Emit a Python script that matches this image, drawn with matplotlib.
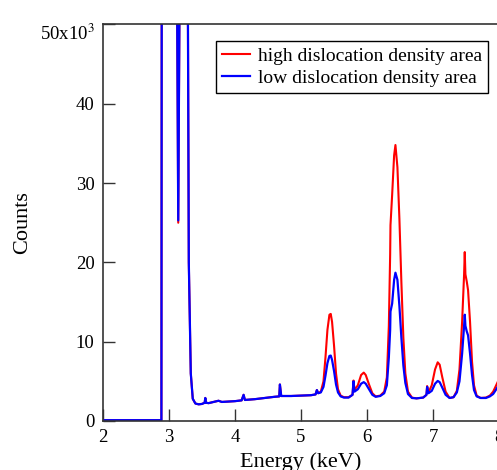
import numpy as np
import matplotlib.pyplot as plt
from matplotlib.transforms import ScaledTranslation

plt.rcParams['font.family'] = ['Liberation Serif', 'DejaVu Serif']
plt.rcParams['mathtext.fontset'] = 'stix'

# energies (keV), shared by both spectra
energy = [2.00, 2.885, 2.893, 3.10, 3.14, 3.185, 3.27, 3.30, 3.33, 3.36, 3.40,
          3.45, 3.50, 3.54, 3.55, 3.56, 3.60, 3.70, 3.75, 3.80, 3.90, 4.00,
          4.10, 4.13, 4.15, 4.30, 4.45, 4.60, 4.67, 4.68, 4.70, 4.85, 5.00,
          5.15, 5.22, 5.24, 5.26,
          5.30, 5.34, 5.37, 5.40, 5.43, 5.45, 5.47, 5.50, 5.53, 5.56, 5.60,
          5.65, 5.72, 5.78, 5.795, 5.81, 5.86, 5.91, 5.95, 5.98, 6.03, 6.08,
          6.13, 6.20, 6.26, 6.30, 6.33, 6.35, 6.355, 6.38, 6.41, 6.43, 6.46,
          6.49, 6.52, 6.55, 6.58, 6.62, 6.68, 6.75, 6.85, 6.90, 6.91, 6.93,
          6.98, 7.03, 7.07, 7.10, 7.14, 7.19, 7.25, 7.31, 7.36, 7.40, 7.44,
          7.47, 7.48, 7.49, 7.51, 7.53, 7.56, 7.59, 7.62, 7.66, 7.72, 7.80,
          7.86, 7.91, 7.95, 8.00]

# high dislocation density area (red)
high_counts = [100, 100, 90000, 90000, 25000, 90000, 90000, 20000, 6000, 2800, 2200,
               2100, 2150, 2300, 2900, 2300, 2250, 2450, 2550, 2400, 2450, 2500,
               2600, 3300, 2650, 2750, 2900, 3050, 3100, 4600, 3150, 3150, 3200,
               3250, 3350, 3900, 3500,
               3700, 5000, 8000, 11500, 13400, 13500, 12500, 9500, 6000, 4000, 3200,
               3000, 3000, 3300, 5100, 3900, 4500, 5800, 6100, 5800, 4600, 3500,
               3100, 3200, 3700, 5500, 12000, 21000, 24700, 28500, 33500, 34800, 32000,
               25500, 17500, 10500, 6000, 3700, 2950, 2850, 2950, 3300, 4400, 3600,
               4500, 6500, 7400, 7100, 5500, 3700, 2900, 3000, 3800, 6500, 12500,
               18500, 21300, 18500, 17600, 16500, 12500, 7500, 4500, 3200, 2900, 2950,
               3200, 3700, 4400, 5300]

# low dislocation density area (blue)
low_counts = [100, 100, 90000, 90000, 25300, 90000, 90000, 20000, 6000, 2800, 2200,
              2100, 2150, 2300, 2900, 2300, 2250, 2450, 2550, 2400, 2450, 2500,
              2600, 3300, 2650, 2750, 2900, 3050, 3100, 4600, 3150, 3150, 3200,
              3250, 3350, 3900, 3500,
              3600, 4300, 5700, 7300, 8200, 8250, 7700, 6300, 4600, 3600, 3100,
              2950, 2950, 3300, 5000, 3700, 4000, 4700, 4900, 4700, 4000, 3300,
              3050, 3150, 3500, 4500, 8000, 11500, 13800, 14800, 17800, 18700, 17800,
              14500, 10500, 7000, 4800, 3400, 2900, 2850, 2950, 3300, 4300, 3500,
              3800, 4700, 5050, 4900, 4200, 3300, 2900, 3000, 3600, 5000, 8500,
              12000, 13400, 12000, 11300, 10800, 8500, 5800, 3900, 3100, 2900, 2900,
              3100, 3400, 3900, 4600]

x_ticks = [2, 3, 4, 5, 6, 7, 8]
y_ticks = [0, 10000, 20000, 30000, 40000, 50000]
y_tick_labels = ['0', '10', '20', '30', '40', '50x10$^{3}$']

fig = plt.figure(figsize=(4.97, 4.70), dpi=100)
ax = fig.add_axes([0.2072, 0.1043, 0.797, 0.8436])

ax.plot(energy, high_counts, color='#ff0000', linewidth=1.5,
        label='high dislocation density area')
ax.plot(energy, low_counts, color='#0000ff', linewidth=1.6,
        label='low dislocation density area')

ax.set_xlim(2, 8)
ax.set_ylim(0, 50000)
ax.set_xticks(x_ticks)
ax.set_yticks(y_ticks)
ax.set_yticklabels(y_tick_labels)
ax.tick_params(direction='in', length=8.5, width=1, labelsize=13.5,
               color='#333333', pad=6)

# the top label sits a little under its tick in the original
top_lab = ax.yaxis.get_major_ticks()[-1].label1
top_lab.set_transform(top_lab.get_transform() +
                      ScaledTranslation(0, -5 / 72, fig.dpi_scale_trans))

for s in ax.spines.values():
    s.set_color('#333333')
    s.set_linewidth(1.2)

ax.set_xlabel('Energy (keV)', fontsize=16, labelpad=4)
ax.set_ylabel('Counts', fontsize=16)
ax.yaxis.set_label_coords(-0.18, 0.5)

leg = ax.legend(loc='upper right', bbox_to_anchor=(0.972, 0.958),
                borderaxespad=0, fontsize=14, fancybox=False, framealpha=1,
                edgecolor='black', handlelength=1.45, handletextpad=0.4,
                labelspacing=0.25, borderpad=0.3)
leg.get_frame().set_linewidth(1.0)

plt.savefig('out.png', dpi=100)
